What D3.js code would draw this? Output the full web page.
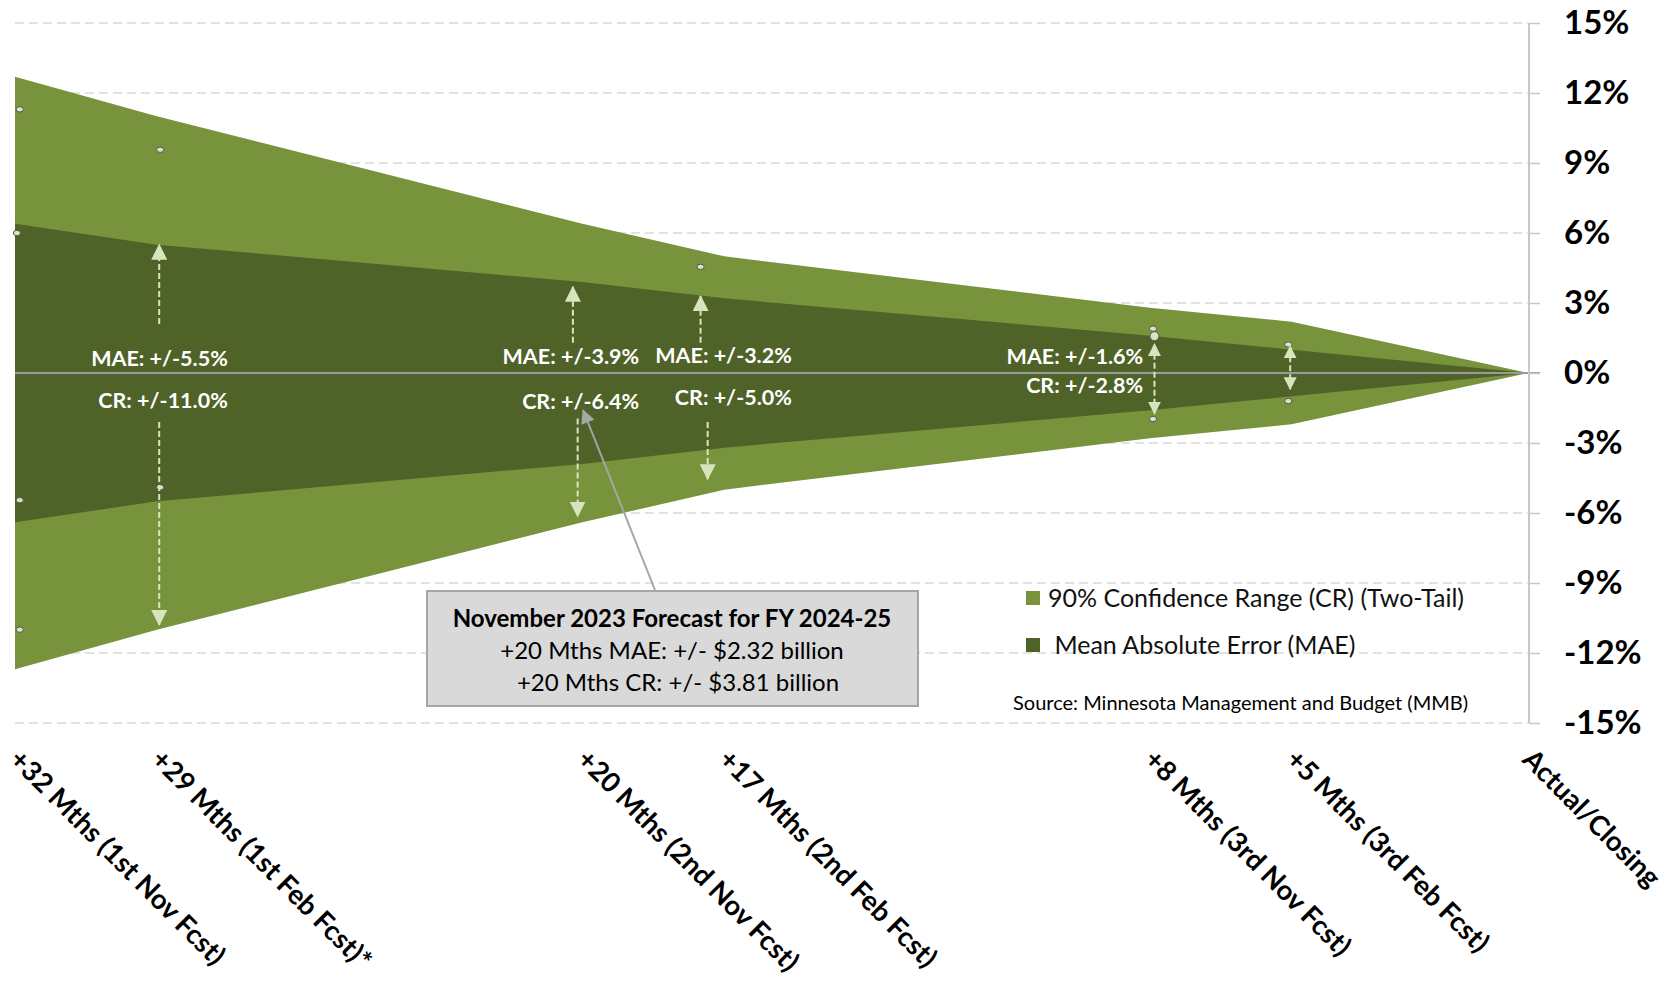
<!doctype html>
<html lang="en">
<head>
    <title>Forecast error range</title>
    <script src="https://d3js.org/d3.v7.min.js"></script>
    <style type="text/css">
        body { margin: 0; background: #fff; }
        text { font-family: Lato, "Noto Sans", sans-serif; }
    </style>
</head>
<body>
</body>
<script type="text/javascript">

    var width  = 1673;
    var height = 982;

    var months = [32, 29, 20, 17, 8, 5, 0];
    var categories = ["+32 Mths (1st Nov Fcst)", "+29 Mths (1st Feb Fcst)*", "+20 Mths (2nd Nov Fcst)",
                      "+17 Mths (2nd Feb Fcst)", "+8 Mths (3rd Nov Fcst)", "+5 Mths (3rd Feb Fcst)", "Actual/Closing"];
    var crValues  = [12.7, 11.0, 6.4, 5.0, 2.8, 2.2, 0];
    var maeValues = [6.4, 5.5, 3.9, 3.2, 1.6, 1.0, 0];
    var yTicks = [15, 12, 9, 6, 3, 0, -3, -6, -9, -12, -15];

    // callout labels: text, right edge (months), centre (value)
    var labelText  = ["MAE: +/-5.5%", "CR: +/-11.0%", "MAE: +/-3.9%", "CR: +/-6.4%",
                      "MAE: +/-3.2%", "CR: +/-5.0%", "MAE: +/-1.6%", "CR: +/-2.8%"];
    var labelMonth = [27.5, 27.5, 18.8, 18.8, 15.57, 15.57, 8.14, 8.14];
    var labelValue = [0.64, -1.16, 0.70, -1.23, 0.77, -1.02, 0.70, -0.51];

    // dashed arrows: month, from value, to value, double headed
    var arrowMonth = [28.95, 28.95, 20.2, 20.1, 17.5, 17.35, 7.9, 5.03];
    var arrowFrom  = [2.1, -2.1, 1.3, -1.95, 1.3, -2.1, -1.75, -0.7];
    var arrowTo    = [5.5, -10.8, 3.7, -6.15, 3.3, -4.55, 1.25, 1.15];
    var arrowBoth  = [false, false, false, false, false, false, true, true];

    // stray point markers left on the chart
    var dotMonth = [31.9, 28.93, 31.96, 31.9, 28.93, 31.9, 17.5, 7.93, 7.9, 7.93, 5.07, 5.07];
    var dotValue = [11.3, 9.57, 6.0, -5.45, -4.9, -11.0, 4.55, 1.9, 1.58, -1.97, 1.22, -1.2];

    var legendItems  = ["90% Confidence Range (CR) (Two-Tail)", " Mean Absolute Error (MAE)"];
    var legendColors = ["#77933c", "#4f6228"];
    var boxLines = ["November 2023 Forecast for FY 2024-25", "+20 Mths MAE: +/- $2.32 billion", "+20 Mths CR: +/- $3.81 billion"];

    var x = d3.scaleLinear().domain([32, 0]).range([15, 1528]);
    var y = d3.scaleLinear().domain([-15, 15]).range([723, 23]);

    var svg = d3.select("body")
        .append("svg")
        .attr("width", width)
        .attr("height", height)
        .style("background", "#fff");

    var defs = svg.append("defs");
    defs.append("marker")
        .attr("id", "head")
        .attr("viewBox", "0 0 16 16")
        .attr("refX", 15).attr("refY", 8)
        .attr("markerWidth", 16).attr("markerHeight", 16)
        .attr("markerUnits", "userSpaceOnUse")
        .attr("orient", "auto-start-reverse")
        .append("path").attr("d", "M0,0 L16,8 L0,16 Z").attr("fill", "#d7e4bd");
    defs.append("marker")
        .attr("id", "headSmall")
        .attr("viewBox", "0 0 16 16")
        .attr("refX", 15).attr("refY", 8)
        .attr("markerWidth", 13).attr("markerHeight", 15)
        .attr("markerUnits", "userSpaceOnUse")
        .attr("orient", "auto-start-reverse")
        .append("path").attr("d", "M0,0 L16,8 L0,16 Z").attr("fill", "#d7e4bd");
    defs.append("marker")
        .attr("id", "grayHead")
        .attr("viewBox", "0 0 16 16")
        .attr("refX", 15).attr("refY", 8)
        .attr("markerWidth", 16).attr("markerHeight", 14)
        .attr("markerUnits", "userSpaceOnUse")
        .attr("orient", "auto")
        .append("path").attr("d", "M0,0 L16,8 L0,16 Z").attr("fill", "#a6a6a6");

    // gridlines
    svg.append("g")
        .selectAll("line")
        .data(yTicks.filter(d => d !== 0))
        .enter()
        .append("line")
        .attr("x1", x(32))
        .attr("x2", x(0))
        .attr("y1", d => y(d))
        .attr("y2", d => y(d))
        .attr("stroke", "#d9d9d9")
        .attr("stroke-width", 1.5)
        .attr("stroke-dasharray", "9,5");

    var idx = d3.range(months.length);

    var crArea = d3.area()
        .x(i => x(months[i]))
        .y0(i => y(-crValues[i]))
        .y1(i => y(crValues[i]));

    var maeArea = d3.area()
        .x(i => x(months[i]))
        .y0(i => y(-maeValues[i]))
        .y1(i => y(maeValues[i]));

    svg.append("path").datum(idx).attr("d", crArea).attr("fill", legendColors[0]);
    svg.append("path").datum(idx).attr("d", maeArea).attr("fill", legendColors[1]);

    // zero line
    svg.append("line")
        .attr("x1", x(32)).attr("x2", x(0) + 12)
        .attr("y1", y(0)).attr("y2", y(0))
        .attr("stroke", "#9a9a9a")
        .attr("stroke-width", 2);

    // right axis
    var axis = d3.axisRight(y)
        .tickValues(yTicks)
        .tickSize(11)
        .tickPadding(24)
        .tickFormat(d => d + "%");

    var ax = svg.append("g")
        .attr("transform", "translate(" + (x(0) + 1) + ",0)")
        .call(axis);
    ax.select(".domain").attr("stroke", "#c8c8c8").attr("stroke-width", 2).attr("d", "M0," + y(15) + "V" + y(-15));
    ax.selectAll(".tick line").attr("stroke", "#c8c8c8").attr("stroke-width", 1.5);
    ax.selectAll(".tick text")
        .attr("fill", "#000")
        .style("font-family", "Lato, sans-serif")
        .style("font-weight", "bold")
        .style("font-size", "33px");

    // stray markers
    svg.append("g")
        .selectAll("ellipse")
        .data(d3.range(dotMonth.length))
        .enter()
        .append("ellipse")
        .attr("cx", i => x(dotMonth[i]))
        .attr("cy", i => y(dotValue[i]))
        .attr("rx", i => i === 8 ? 4.5 : 3.6)
        .attr("ry", i => i === 8 ? 4.5 : 2.7)
        .attr("fill", "#d7e4bd")
        .attr("stroke", "#555")
        .attr("stroke-width", 1);

    // dashed arrows
    svg.append("g")
        .selectAll("line")
        .data(d3.range(arrowMonth.length))
        .enter()
        .append("line")
        .attr("x1", i => x(arrowMonth[i]))
        .attr("x2", i => x(arrowMonth[i]))
        .attr("y1", i => y(arrowFrom[i]))
        .attr("y2", i => y(arrowTo[i]))
        .attr("stroke", "#d7e4bd")
        .attr("stroke-width", 2)
        .attr("stroke-dasharray", "6,3")
        .attr("marker-end", i => arrowBoth[i] ? "url(#headSmall)" : "url(#head)")
        .attr("marker-start", i => arrowBoth[i] ? "url(#headSmall)" : null);

    // white value labels
    svg.append("g")
        .selectAll("text")
        .data(d3.range(labelText.length))
        .enter()
        .append("text")
        .attr("x", i => x(labelMonth[i]))
        .attr("y", i => y(labelValue[i]))
        .attr("dy", "0.36em")
        .attr("text-anchor", "end")
        .attr("fill", "#fff")
        .style("font-weight", "bold")
        .style("font-size", "21.5px")
        .text(i => labelText[i]);

    // category labels
    svg.append("g")
        .selectAll("text")
        .data(idx)
        .enter()
        .append("text")
        .attr("transform", i => "translate(" + (x(months[i]) - 7) + ",761) rotate(45)")
        .attr("fill", "#000")
        .style("font-weight", "bold")
        .style("font-size", "27.5px")
        .text(i => categories[i]);

    // legend
    var lg = svg.append("g").attr("transform", "translate(1026,591)");
    lg.selectAll("rect")
        .data(legendItems)
        .enter()
        .append("rect")
        .attr("x", 0)
        .attr("y", (d, i) => i * 47)
        .attr("width", 14)
        .attr("height", 14)
        .attr("fill", (d, i) => legendColors[i]);
    lg.selectAll("text")
        .data(legendItems)
        .enter()
        .append("text")
        .attr("x", 22)
        .attr("y", (d, i) => i * 47 + 7)
        .attr("dy", "0.36em")
        .attr("fill", "#111")
        .style("font-size", "25px")
        .style("white-space", "pre")
        .text(d => d);

    svg.append("text")
        .attr("x", 1013)
        .attr("y", 703)
        .attr("dy", "0.36em")
        .attr("fill", "#000")
        .style("font-size", "20px")
        .text("Source: Minnesota Management and Budget (MMB)");

    // callout box with pointer
    svg.append("line")
        .attr("x1", 655).attr("y1", 590)
        .attr("x2", 583).attr("y2", 410)
        .attr("stroke", "#a6a6a6")
        .attr("stroke-width", 2)
        .attr("marker-end", "url(#grayHead)");

    svg.append("rect")
        .attr("x", 427).attr("y", 591)
        .attr("width", 491).attr("height", 115)
        .attr("fill", "#d9d9d9")
        .attr("stroke", "#a6a6a6")
        .attr("stroke-width", 2);

    svg.append("g")
        .selectAll("text")
        .data(boxLines)
        .enter()
        .append("text")
        .attr("x", (d, i) => i === 2 ? 678 : 672)
        .attr("y", (d, i) => 618 + i * 32)
        .attr("dy", "0.36em")
        .attr("text-anchor", "middle")
        .attr("fill", "#000")
        .style("font-weight", (d, i) => i === 0 ? "bold" : "normal")
        .style("font-size", "24px")
        .text(d => d);

</script>
</html>
